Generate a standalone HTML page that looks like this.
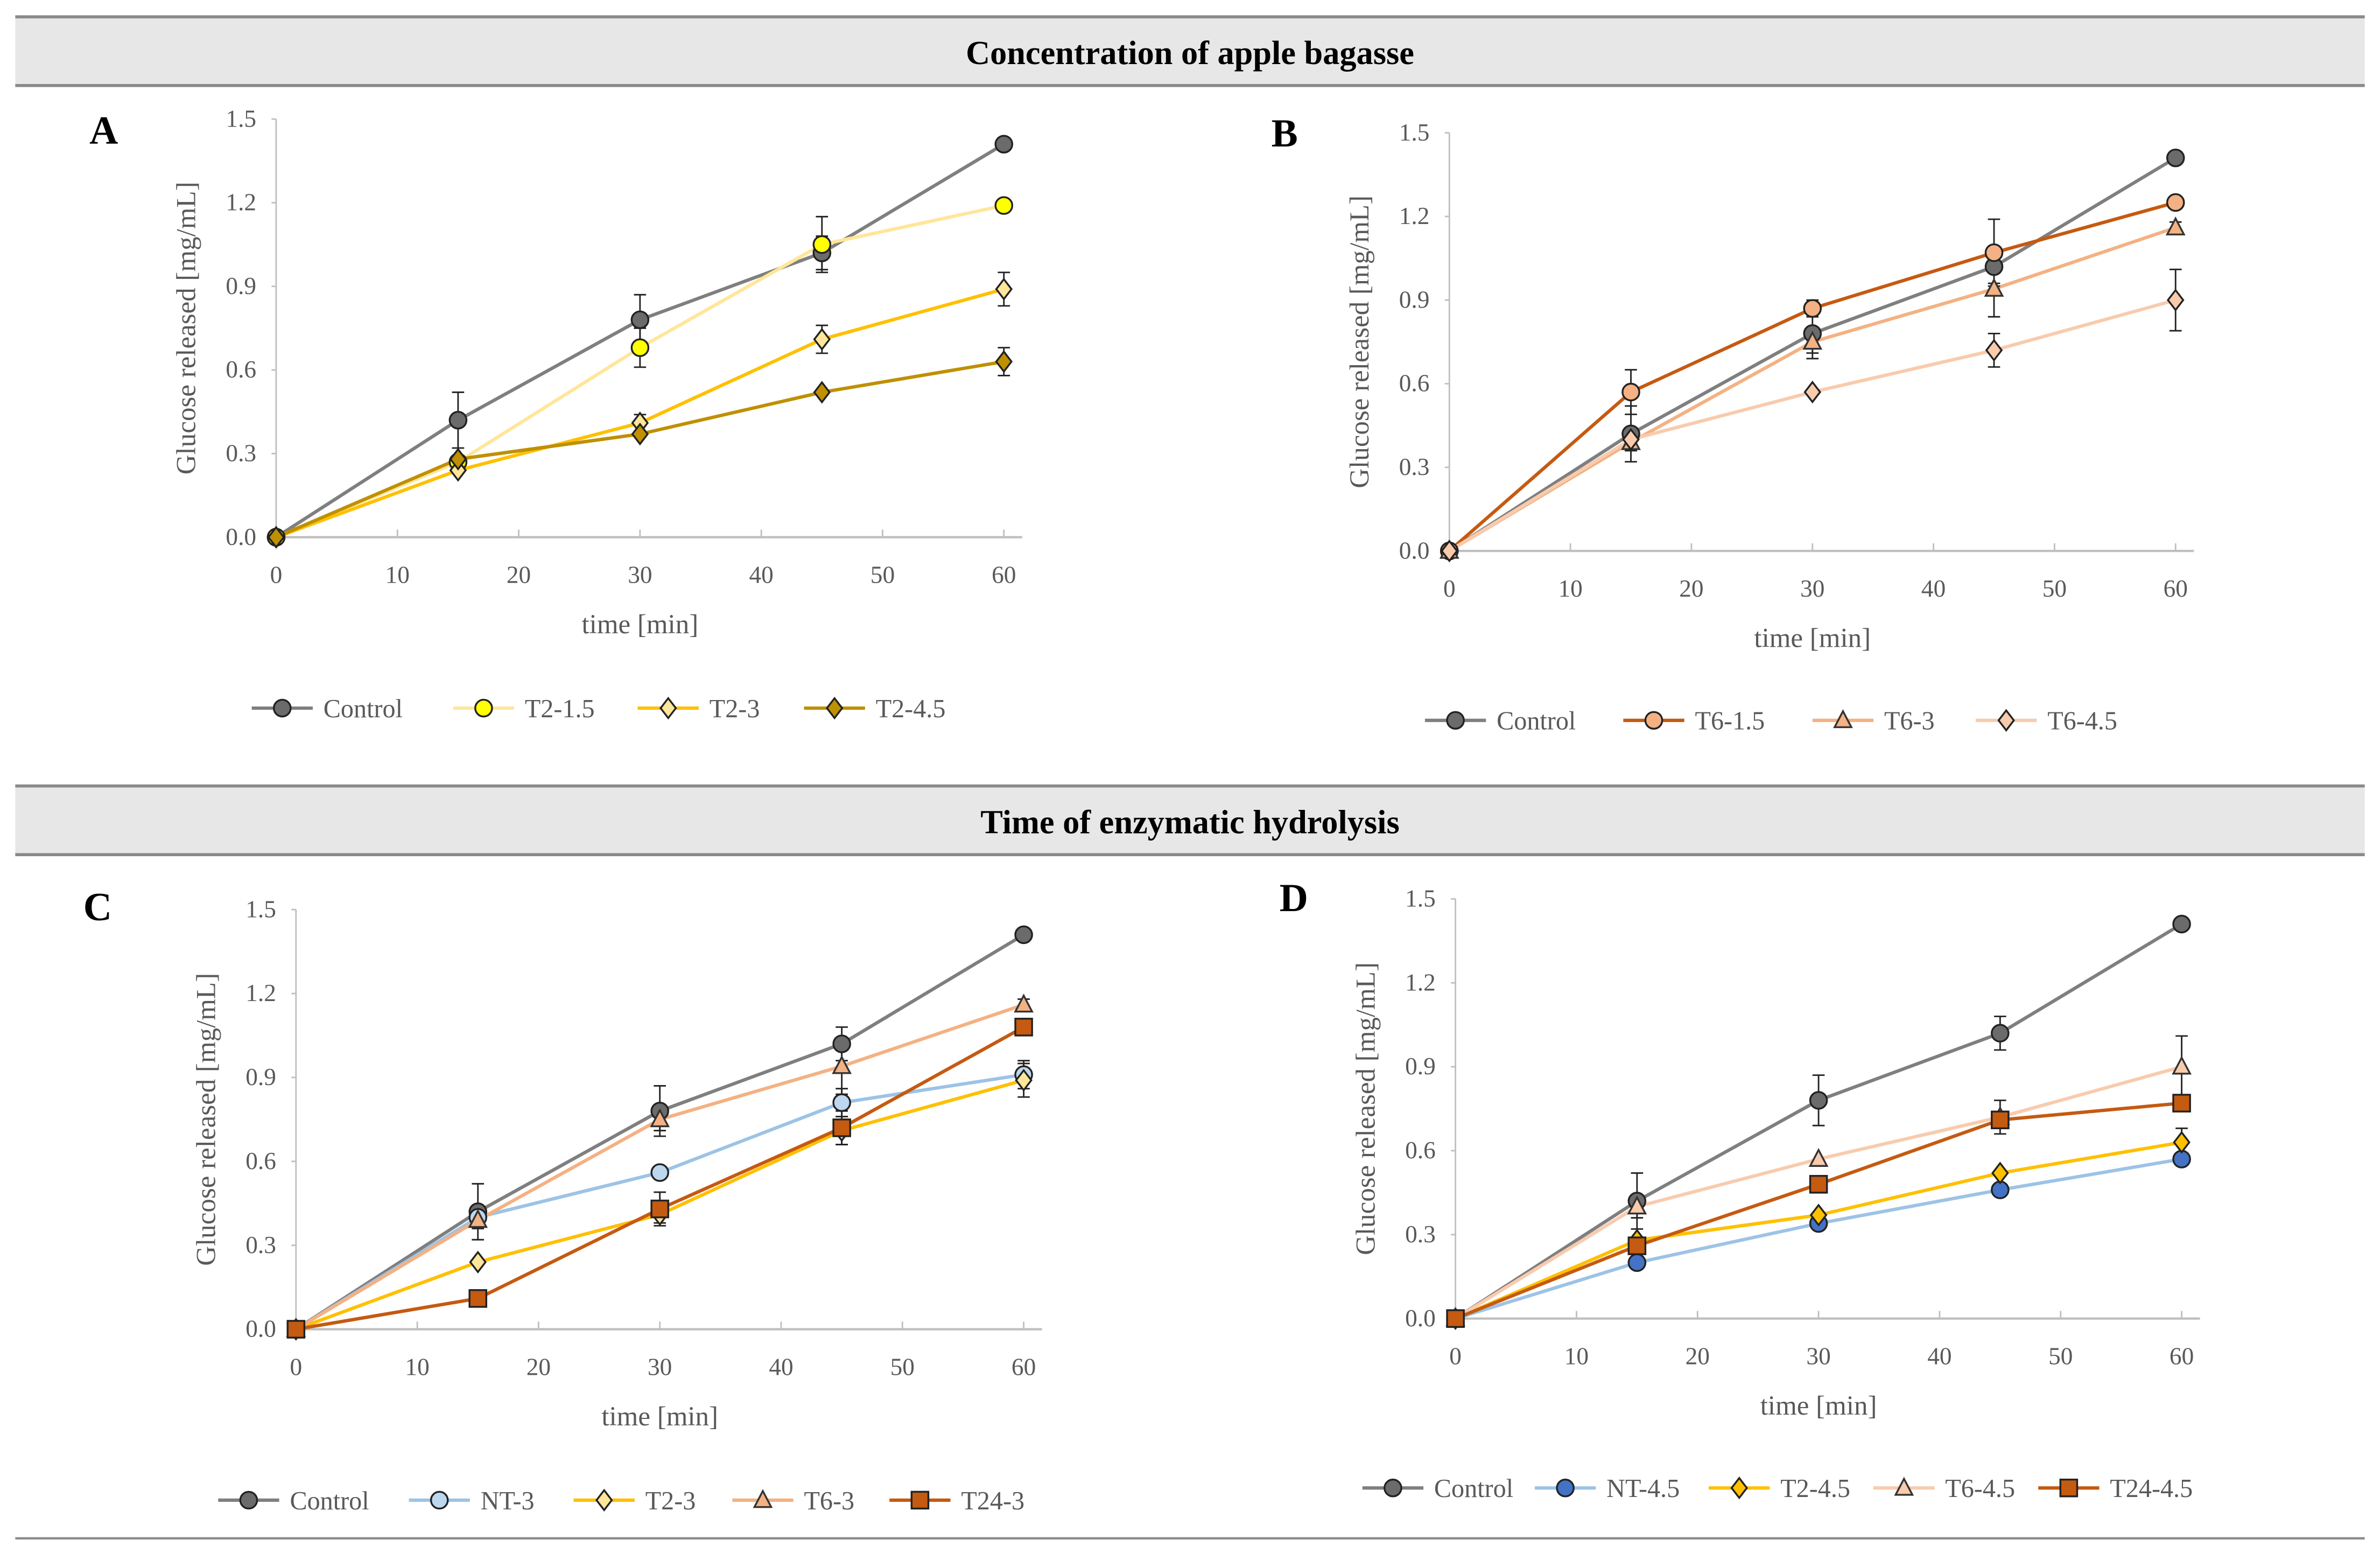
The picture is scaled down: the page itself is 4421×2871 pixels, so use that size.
<!DOCTYPE html>
<html><head><meta charset="utf-8"><style>
html,body{margin:0;padding:0;background:#fff;}
svg{display:block;font-family:"Liberation Serif",serif;}
</style></head><body>
<svg id="fig" width="4421" height="2871" viewBox="0 0 1560 1013" xmlns="http://www.w3.org/2000/svg">
<g>
<rect x="10" y="11" width="1540" height="45" fill="#e7e7e7"/>
<line x1="10" y1="11" x2="1550" y2="11" stroke="#8a8a8a" stroke-width="2"/>
<line x1="10" y1="56" x2="1550" y2="56" stroke="#8a8a8a" stroke-width="2"/>
<text x="780" y="42" text-anchor="middle" font-size="22" font-weight="bold">Concentration of apple bagasse</text>
</g>
<g>
<rect x="10" y="515" width="1540" height="45" fill="#e7e7e7"/>
<line x1="10" y1="515" x2="1550" y2="515" stroke="#8a8a8a" stroke-width="2"/>
<line x1="10" y1="560" x2="1550" y2="560" stroke="#8a8a8a" stroke-width="2"/>
<text x="780" y="546" text-anchor="middle" font-size="22" font-weight="bold">Time of enzymatic hydrolysis</text>
</g>
<line x1="10" y1="1008" x2="1550" y2="1008" stroke="#8a8a8a" stroke-width="1.5"/>
</svg>
<script>
const xTicks=[0,10,20,30,40,50,60];
const yTicks=[0,0.3,0.6,0.9,1.2,1.5];
const times=[0,15,30,45,60];
const control=[0,0.42,0.78,1.02,1.41];
const controlErr=[0,0.1,0.09,0.06,0];
const t215=[0,0.27,0.68,1.05,1.19];
const t215Err=[0,0,0.07,0.1,0];
const t23=[0,0.24,0.41,0.71,0.89];
const t23Err=[0,0,0.03,0.05,0.06];
const t245=[0,0.28,0.37,0.52,0.63];
const t245Err=[0,0,0,0,0.05];
const t615=[0,0.57,0.87,1.07,1.25];
const t615Err=[0,0.08,0.03,0.12,0];
const t63=[0,0.39,0.75,0.94,1.16];
const t63Err=[0,0.03,0.04,0.1,0.02];
const t645=[0,0.4,0.57,0.72,0.9];
const t645Err=[0,0.04,0,0.06,0.11];
const nt3=[0,0.4,0.56,0.81,0.91];
const nt3Err=[0,0,0,0.05,0.05];
const t243=[0,0.11,0.43,0.72,1.08];
const t243Err=[0,0,0.06,0.06,0.03];
const nt45=[0,0.2,0.34,0.46,0.57];
const nt45Err=[0,0,0,0.02,0];
const t2445=[0,0.26,0.48,0.71,0.77];
const t2445Err=[0,0,0,0.03,0];

const NS="http://www.w3.org/2000/svg";
const svg=document.getElementById('fig');
function el(tag,attrs,parent,text){const e=document.createElementNS(NS,tag);for(const k in attrs)e.setAttribute(k,attrs[k]);if(text!==undefined)e.textContent=text;(parent||svg).appendChild(e);return e;}

function marker(g,shape,x,y,fill){
  let m;
  if(shape==='circle')m=el('circle',{cx:x,cy:y,r:5.5,fill:fill,stroke:'#222','stroke-width':1.2},g);
  else if(shape==='diamond')m=el('polygon',{points:`${x},${y-6.5} ${x+5},${y} ${x},${y+6.5} ${x-5},${y}`,fill:fill,stroke:'#222','stroke-width':1.2},g);
  else if(shape==='triangle')m=el('polygon',{points:`${x},${y-6} ${x+5.5},${y+4.5} ${x-5.5},${y+4.5}`,fill:fill,stroke:'#333','stroke-width':1.2},g);
  else m=el('rect',{x:x-5.5,y:y-5.5,width:11,height:11,fill:fill,stroke:'#222','stroke-width':1.2},g);
  return m;
}

function panel(p){
  const g=el('g',{});
  
  
  const sx=v=>p.x0+(p.x1-p.x0)*v/60;
  const sy=v=>p.y0-(p.y0-p.y1)*v/1.5;
  const lt=el('text',{x:p.lx,y:p.ly,'font-size':26,'font-weight':'bold','text-anchor':'middle'},g,p.letter);
  
  
  el('line',{x1:p.x0,y1:p.y0,x2:p.x0,y2:p.y1,stroke:'#bfbfbf','stroke-width':1},g);
  el('line',{x1:p.x0,y1:p.y0,x2:sx(60)+12,y2:p.y0,stroke:'#bfbfbf','stroke-width':1.5},g);
  yTicks.forEach(v=>{
    el('line',{x1:p.x0-3,y1:sy(v),x2:p.x0,y2:sy(v),stroke:'#bfbfbf'},g);
    const t=el('text',{x:p.x0-13,y:sy(v)+5,'font-size':16,fill:'#595959','text-anchor':'end'},g,v.toFixed(1));
    
    
  });
  xTicks.forEach(v=>{
    el('line',{x1:sx(v),y1:p.y0-5,x2:sx(v),y2:p.y0,stroke:'#bfbfbf'},g);
    const t=el('text',{x:sx(v),y:p.y0+30,'font-size':16,fill:'#595959','text-anchor':'middle'},g,String(v));
    
    
  });
  const yl=el('text',{x:0,y:0,'font-size':18,fill:'#595959','text-anchor':'middle',transform:`translate(${p.x0-53},${(p.y0+p.y1)/2}) rotate(-90)`},g,'Glucose released [mg/mL]');
  
  
  const xl=el('text',{x:(p.x0+p.x1)/2,y:p.y0+63,'font-size':18,fill:'#595959','text-anchor':'middle'},g,'time [min]');
  
  
  // lines
  p.series.forEach(s=>{
    const pts=times.map((t,i)=>sx(t)+','+sy(s.v[i])).join(' ');
    const pl=el('polyline',{points:pts,fill:'none',stroke:s.line,'stroke-width':2.2},g);
    
    
  });
  p.series.forEach(s=>{
    times.forEach((t,i)=>{
      const e=s.e[i];
      if(e>0){
        const x=sx(t);
        el('line',{x1:x,y1:sy(s.v[i]-e),x2:x,y2:sy(s.v[i]+e),stroke:'#222','stroke-width':1},g);
        el('line',{x1:x-4,y1:sy(s.v[i]-e),x2:x+4,y2:sy(s.v[i]-e),stroke:'#222','stroke-width':1},g);
        el('line',{x1:x-4,y1:sy(s.v[i]+e),x2:x+4,y2:sy(s.v[i]+e),stroke:'#222','stroke-width':1},g);
      }
    });
  });
  p.series.forEach(s=>{
    times.forEach((t,i)=>{
      const m=marker(g,s.shape,sx(t),sy(s.v[i]),s.fill);
      
      
    });
  });
  // legend
  p.series.forEach((s,i)=>{
    const lx=p.leg[i];
    const lg=el('g',{},g);
    
    
    el('line',{x1:lx,y1:p.legY,x2:lx+40,y2:p.legY,stroke:s.line,'stroke-width':2.2},lg);
    marker(lg,s.shape,lx+20,p.legY,s.fill);
    el('text',{x:lx+47,y:p.legY+6,'font-size':17,fill:'#595959'},lg,s.name);
  });
}
const C={name:'Control',v:control,e:controlErr,line:'#7f7f7f',fill:'#6b6b6b',shape:'circle'};
panel({letter:'A',lx:68,ly:94,x0:181,x1:658,y0:352,y1:78,legY:464,leg:[165,297,418,527],series:[C,
 {name:'T2-1.5',v:t215,e:t215Err,line:'#ffe699',fill:'#ffff00',shape:'circle'},
 {name:'T2-3',v:t23,e:t23Err,line:'#ffc000',fill:'#ffe699',shape:'diamond'},
 {name:'T2-4.5',v:t245,e:t245Err,line:'#bf9000',fill:'#bf9000',shape:'diamond'}]});
panel({letter:'B',lx:842,ly:96,x0:950,x1:1426,y0:361,y1:87,legY:472,leg:[934,1064,1188,1295],series:[C,
 {name:'T6-1.5',v:t615,e:t615Err,line:'#c55a11',fill:'#f4b183',shape:'circle'},
 {name:'T6-3',v:t63,e:t63Err,line:'#f4b183',fill:'#f4b183',shape:'triangle'},
 {name:'T6-4.5',v:t645,e:t645Err,line:'#f8cbad',fill:'#f8cbad',shape:'diamond'}]});
panel({letter:'C',lx:64,ly:603,x0:194,x1:671,y0:871,y1:596,legY:983,leg:[143,268,376,480,583],series:[C,
 {name:'NT-3',v:nt3,e:nt3Err,line:'#9dc3e6',fill:'#bdd7ee',shape:'circle'},
 {name:'T2-3',v:t23,e:t23Err,line:'#ffc000',fill:'#ffe699',shape:'diamond'},
 {name:'T6-3',v:t63,e:t63Err,line:'#f4b183',fill:'#f4b183',shape:'triangle'},
 {name:'T24-3',v:t243,e:t243Err,line:'#c55a11',fill:'#c55a11',shape:'square'}]});
panel({letter:'D',lx:848,ly:597,x0:954,x1:1430,y0:864,y1:589,legY:975,leg:[893,1006,1120,1228,1336],series:[C,
 {name:'NT-4.5',v:nt45,e:nt45Err,line:'#9dc3e6',fill:'#4472c4',shape:'circle'},
 {name:'T2-4.5',v:t245,e:t245Err,line:'#ffc000',fill:'#ffc000',shape:'diamond'},
 {name:'T6-4.5',v:t645,e:t645Err,line:'#f8cbad',fill:'#f8cbad',shape:'triangle'},
 {name:'T24-4.5',v:t2445,e:t2445Err,line:'#c55a11',fill:'#c55a11',shape:'square'}]});
</script>
</body></html>
